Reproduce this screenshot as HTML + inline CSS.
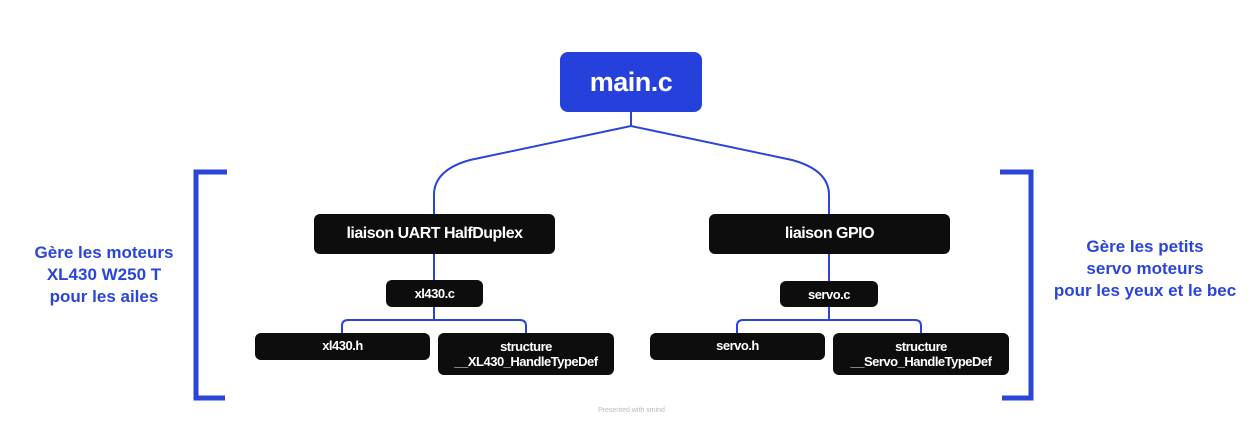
<!DOCTYPE html>
<html><head><meta charset="utf-8"><style>
body{margin:0;width:1256px;height:426px;background:#fff;position:relative;overflow:hidden;font-family:"Liberation Sans",sans-serif}
.n{position:absolute;background:#0d0d0d;color:#fff;border-radius:6px;font-weight:bold;text-align:center;display:flex;align-items:center;justify-content:center;letter-spacing:-0.5px}
.t{position:absolute;color:#2a45d8;font-weight:bold;font-size:17px;text-align:center;line-height:22px}
</style></head><body>
<svg width="1256" height="426" style="position:absolute;left:0;top:0" fill="none">
<g stroke="#2a45d8" stroke-width="2">
<path d="M631 112V126L470 160Q434 170 434 195V214"/>
<path d="M631 126L792 160Q829 170 829 195V214"/>
<path d="M434 254V280M434 307V320M342 333V326Q342 320 348 320H520Q526 320 526 326V333"/>
<path d="M829 254V281M829 307V320M737 333V326Q737 320 743 320H915Q921 320 921 326V333"/>
</g>
<g stroke="#2a45d8" stroke-width="5">
<path d="M227 172H196V398H225"/>
<path d="M1000 172H1031V398H1002"/>
</g>
</svg>
<div class="n" style="left:560px;top:52px;width:142px;height:60px;background:#2640dc;border-radius:8px;font-size:27px">main.c</div>
<div class="n" style="left:314px;top:214px;width:241px;height:40px;font-size:16px">liaison UART HalfDuplex</div>
<div class="n" style="left:709px;top:214px;width:241px;height:40px;font-size:16px">liaison GPIO</div>
<div class="n" style="left:386px;top:280px;width:97px;height:27px;font-size:13px">xl430.c</div>
<div class="n" style="left:780px;top:281px;width:98px;height:26px;font-size:13px">servo.c</div>
<div class="n" style="left:255px;top:333px;width:175px;height:27px;font-size:13px;align-items:flex-start;padding-top:5px;box-sizing:border-box">xl430.h</div>
<div class="n" style="left:438px;top:333px;width:176px;height:42px;font-size:13px;line-height:15px">structure<br>__XL430_HandleTypeDef</div>
<div class="n" style="left:650px;top:333px;width:175px;height:27px;font-size:13px;align-items:flex-start;padding-top:5px;box-sizing:border-box">servo.h</div>
<div class="n" style="left:833px;top:333px;width:176px;height:42px;font-size:13px;line-height:15px">structure<br>__Servo_HandleTypeDef</div>
<div class="t" style="left:4px;top:242px;width:200px">Gère les moteurs<br>XL430 W250 T<br>pour les ailes</div>
<div class="t" style="left:1040px;top:236px;width:210px">Gère les petits<br>servo moteurs<br>pour les yeux et le bec</div>
<div style="position:absolute;left:598px;top:407px;font-size:7px;color:#bbb">Presented with xmind</div>
</body></html>
